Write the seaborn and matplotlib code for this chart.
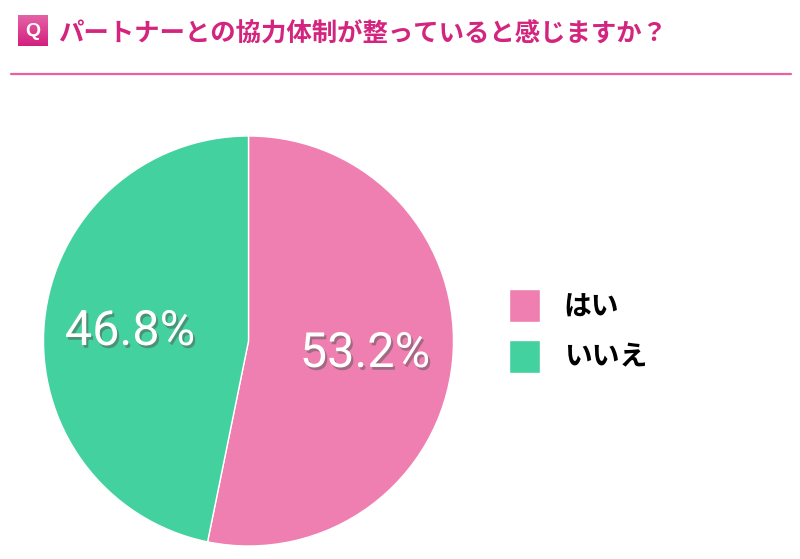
import numpy as np
import matplotlib
matplotlib.use("Agg")
import matplotlib.pyplot as plt
import matplotlib.patheffects as pe
from matplotlib.lines import Line2D
import seaborn as sns

title = "パートナーとの協力体制が整っていると感じますか？"
labels = ["はい", "いいえ"]
values = [53.2, 46.8]
colors = ["#ef7fb0", "#43d19f"]

W, H = 800, 559

sns.set_theme(style="white")
plt.rcParams['font.family'] = ['Noto Sans CJK JP', 'DejaVu Sans']

fig = plt.figure(figsize=(W / 100, H / 100), dpi=100, facecolor="white")

# pie: centre (248,341), radius 205 in pixels
ax = fig.add_axes([43.5 / W, 1 - 546 / H, 410 / W, 410 / H])
wedges, _ = ax.pie(values, colors=colors, startangle=90, counterclock=False, radius=1,
                   wedgeprops={"edgecolor": "white", "linewidth": 1})
ax.set_xlim(-1, 1)
ax.set_ylim(-1, 1)

shadow = [pe.withSimplePatchShadow(offset=(1.5, -2), shadow_rgbFace="#555555", alpha=0.5)]
pct_pos = [(365, 354), (130, 332)]
for v, (px, py) in zip(values, pct_pos):
    fig.text(px / W, 1 - py / H, f"{v}%", color="white", fontsize=35, ha="center", va="center",
             family=["Roboto"], fontweight="normal", path_effects=shadow)

fig.legend(wedges, labels, loc="center left", bbox_to_anchor=(509 / W, 1 - 331 / H),
           frameon=False, handlelength=1.12, handleheight=1.45,
           handletextpad=0.85, labelspacing=0.62, borderpad=0, borderaxespad=0,
           labelcolor="black",
           prop={"family": "Noto Sans CJK JP", "weight": "bold", "size": 20})

# header
fig.text(58 / W, 1 - 34 / H, title, color="#d3257f", fontsize=18.3, va="center", fontweight="bold")
fig.add_artist(Line2D([11 / W, 791 / W], [1 - 73.5 / H] * 2, color="#ee5f9f", linewidth=1.6))

# Q badge with a vertical gradient
badge = fig.add_axes([18 / W, 1 - 46 / H, 30 / W, 31 / H])
grad = np.linspace(0, 1, 32).reshape(-1, 1)
cmap = matplotlib.colors.LinearSegmentedColormap.from_list("q", ["#e462a6", "#d3207f"])
badge.imshow(grad, cmap=cmap, aspect="auto")
badge.axis("off")
badge.text(0.5, 0.48, "Q", color="white", fontsize=14, fontweight="bold", ha="center", va="center",
           transform=badge.transAxes, family=["Liberation Sans"])

fig.savefig("out.png", dpi=100)
